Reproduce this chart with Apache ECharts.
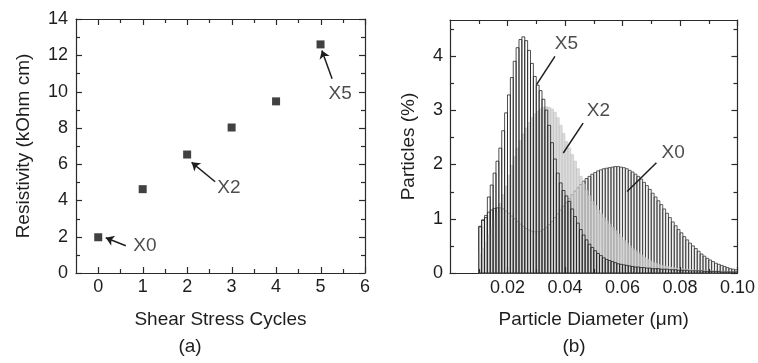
<!DOCTYPE html>
<html>
<head>
    <title>Resistivity and particle size</title>
    <meta charset="utf-8">
    <script type="text/javascript" src="https://cdn.jsdelivr.net/npm/echarts@6/dist/echarts.min.js"></script>
    <style>html, body { margin: 0; background: #fff; }</style>
</head>
<body>
<div id="chartmain" style="width:758px; height:363px;"></div>

<script type="text/javascript">
    // (a) resistivity vs shear stress cycles
    var cycles = [0, 1, 2, 3, 4, 5];
    var resistivity = [1.97, 4.62, 6.53, 8.02, 9.46, 12.6];
    var cycleTicks = [0, 1, 2, 3, 4, 5, 6];
    var cycleMinor = [0.5, 1.5, 2.5, 3.5, 4.5, 5.5];
    var resTicks = [0, 2, 4, 6, 8, 10, 12, 14];
    var resMinor = [1, 3, 5, 7, 9, 11, 13];

    // (b) particle size histograms, left edge of each bin (um)
    var diameter = [0.010, 0.011, 0.012, 0.013, 0.014, 0.015, 0.016, 0.017, 0.018, 0.019,
        0.020, 0.021, 0.022, 0.023, 0.024, 0.025, 0.026, 0.027, 0.028, 0.029,
        0.030, 0.031, 0.032, 0.033, 0.034, 0.035, 0.036, 0.037, 0.038, 0.039,
        0.040, 0.041, 0.042, 0.043, 0.044, 0.045, 0.046, 0.047, 0.048, 0.049,
        0.050, 0.051, 0.052, 0.053, 0.054, 0.055, 0.056, 0.057, 0.058, 0.059,
        0.060, 0.061, 0.062, 0.063, 0.064, 0.065, 0.066, 0.067, 0.068, 0.069,
        0.070, 0.071, 0.072, 0.073, 0.074, 0.075, 0.076, 0.077, 0.078, 0.079,
        0.080, 0.081, 0.082, 0.083, 0.084, 0.085, 0.086, 0.087, 0.088, 0.089,
        0.090, 0.091, 0.092, 0.093, 0.094, 0.095, 0.096, 0.097, 0.098, 0.099];
    var x0 = [0.85, 0.98, 1.06, 1.12, 1.16, 1.19, 1.20, 1.20, 1.18, 1.14,
        1.10, 1.05, 1.00, 0.95, 0.90, 0.86, 0.82, 0.79, 0.77, 0.76,
        0.76, 0.77, 0.80, 0.84, 0.89, 0.95, 1.02, 1.09, 1.16, 1.23,
        1.30, 1.37, 1.44, 1.51, 1.57, 1.63, 1.69, 1.74, 1.78, 1.82,
        1.85, 1.88, 1.90, 1.92, 1.93, 1.94, 1.95, 1.96, 1.96, 1.95,
        1.94, 1.92, 1.89, 1.86, 1.82, 1.78, 1.73, 1.67, 1.61, 1.54,
        1.47, 1.40, 1.33, 1.26, 1.18, 1.10, 1.02, 0.94, 0.87, 0.80,
        0.74, 0.67, 0.61, 0.55, 0.50, 0.45, 0.40, 0.35, 0.31, 0.27,
        0.24, 0.21, 0.18, 0.16, 0.14, 0.12, 0.10, 0.08, 0.07, 0.06];
    var x2 = [0.35, 0.45, 0.57, 0.70, 0.84, 0.98, 1.12, 1.28, 1.44, 1.60,
        1.80, 1.98, 2.14, 2.30, 2.44, 2.56, 2.67, 2.77, 2.86, 2.93,
        2.98, 3.02, 3.05, 3.06, 3.05, 3.02, 2.96, 2.86, 2.72, 2.57,
        2.42, 2.30, 2.18, 2.06, 1.92, 1.78, 1.64, 1.52, 1.42, 1.32,
        1.24, 1.16, 1.09, 1.02, 0.96, 0.90, 0.84, 0.78, 0.72, 0.66,
        0.60, 0.55, 0.50, 0.45, 0.41, 0.37, 0.33, 0.29, 0.26, 0.23,
        0.20, 0.18, 0.16, 0.14, 0.13, 0.12, 0.11, 0.10, 0.09, 0.08,
        0.08, 0.07, 0.07, 0.06, 0.06, 0.05, 0.05, 0.05, 0.04, 0.04,
        0.04, 0.04, 0.03, 0.03, 0.03, 0.03, 0.03, 0.02, 0.02, 0.02];
    var x5 = [0.86, 0.97, 1.02, 1.40, 1.62, 1.84, 2.06, 2.30, 2.62, 2.95,
        3.28, 3.60, 3.90, 4.15, 4.30, 4.35, 4.28, 4.10, 3.86, 3.62,
        3.46, 3.36, 3.20, 3.00, 2.72, 2.40, 2.10, 1.84, 1.66, 1.52,
        1.42, 1.32, 1.18, 1.04, 0.92, 0.80, 0.70, 0.61, 0.53, 0.47,
        0.41, 0.36, 0.32, 0.28, 0.25, 0.23, 0.21, 0.19, 0.17, 0.16,
        0.15, 0.14, 0.13, 0.12, 0.11, 0.11, 0.10, 0.10, 0.09, 0.09,
        0.08, 0.08, 0.08, 0.07, 0.07, 0.07, 0.06, 0.06, 0.06, 0.05,
        0.05, 0.05, 0.05, 0.04, 0.04, 0.04, 0.04, 0.04, 0.03, 0.03,
        0.03, 0.03, 0.03, 0.03, 0.02, 0.02, 0.02, 0.02, 0.02, 0.02];
    var diamTicks = [0.02, 0.04, 0.06, 0.08, 0.10];
    var diamMinor = [0.01, 0.03, 0.05, 0.07, 0.09];
    var pctTicks = [0, 1, 2, 3, 4];
    var pctMinor = [0.5, 1.5, 2.5, 3.5, 4.5];

    var binWidth = 0.001;
    var fontName = 'Liberation Sans, Arial, sans-serif';
    var ink = '#1e1e1e';
    var frame = '#2a2a2a';

    // one side of a plot box: line, optional labels and name
    function makeAxis(grid, pos, min, max, interval, opts) {
        opts = opts || {};
        var ax = {
            type: 'value', gridIndex: grid, position: pos,
            min: min, max: max, interval: interval,
            axisLine: {show: true, onZero: false, lineStyle: {color: frame, width: 1.2}},
            splitLine: {show: false},
            axisTick: {show: false},
            axisLabel: {show: false}
        };
        if (opts.fmt) {
            ax.axisLabel = {show: true, formatter: opts.fmt, margin: opts.margin,
                showMinLabel: opts.showMin !== false, showMaxLabel: true,
                fontFamily: fontName, fontSize: 18, color: ink};
            ax.name = opts.name;
            ax.nameLocation = 'middle';
            ax.nameGap = opts.gap;
            ax.nameTextStyle = {fontFamily: fontName, fontSize: 19, color: ink};
        }
        return ax;
    }

    function histogram(fill, stroke, lw) {
        return function (params, api) {
            var lo = api.coord([api.value(0), 0]);
            var hi = api.coord([api.value(0) + binWidth, api.value(1)]);
            return {
                type: 'rect',
                shape: {x: lo[0], y: hi[1], width: hi[0] - lo[0], height: lo[1] - hi[1]},
                style: {fill: fill, stroke: stroke, lineWidth: lw}
            };
        };
    }

    function pairs(xs, ys) {
        return xs.map(function (x, i) { return [x, ys[i]]; });
    }

    var intOnly = function (v) { return Math.abs(v - Math.round(v)) < 1e-9 ? String(Math.round(v)) : ''; };
    var diamFmt = function (v) { return v.toFixed(2); };

    var titles = [
        {type: 'text', x: 190, y: 347, style: {text: '(a)', textAlign: 'center', textVerticalAlign: 'middle',
            fontFamily: fontName, fontSize: 19, fill: ink}},
        {type: 'text', x: 574, y: 347, style: {text: '(b)', textAlign: 'center', textVerticalAlign: 'middle',
            fontFamily: fontName, fontSize: 19, fill: ink}}
    ];

    var option = {
        animation: false,
        backgroundColor: '#fff',
        grid: [
            {left: 76, top: 19, width: 289, height: 254},
            {left: 450, top: 20, width: 288, height: 253}
        ],
        xAxis: [
            makeAxis(0, 'bottom', -0.5, 6, 0.5, {fmt: intOnly, margin: 5, name: 'Shear Stress Cycles', gap: 37}),
            makeAxis(0, 'top', -0.5, 6, 0.5),
            makeAxis(1, 'bottom', 0, 0.1, 0.02, {fmt: diamFmt, margin: 6, showMin: false,
                name: 'Particle Diameter (μm)', gap: 37}),
            makeAxis(1, 'top', 0, 0.1, 0.02)
        ],
        yAxis: [
            makeAxis(0, 'left', 0, 14, 2, {fmt: intOnly, margin: 8, name: 'Resistivity (kOhm cm)', gap: 43}),
            makeAxis(0, 'right', 0, 14, 2),
            makeAxis(1, 'left', 0, 4.66, 0.5, {fmt: intOnly, margin: 7, name: 'Particles (%)', gap: 32}),
            makeAxis(1, 'right', 0, 4.66, 0.5)
        ],
        series: [
            {
                name: 'X0', type: 'custom', xAxisIndex: 2, yAxisIndex: 2,
                renderItem: histogram('rgba(120,120,120,0.12)', '#383838', 0.8),
                encode: {x: 0, y: 1},
                data: pairs(diameter, x0)
            },
            {
                name: 'X2', type: 'custom', xAxisIndex: 2, yAxisIndex: 2,
                renderItem: histogram('rgba(196,196,196,0.6)', '#c4c4c4', 0.6),
                encode: {x: 0, y: 1},
                data: pairs(diameter, x2)
            },
            {
                name: 'X5', type: 'custom', xAxisIndex: 2, yAxisIndex: 2,
                renderItem: histogram('rgba(255,255,255,0)', '#222', 0.8),
                encode: {x: 0, y: 1},
                data: pairs(diameter, x5)
            },
            {
                name: 'Resistivity',
                type: 'scatter',
                xAxisIndex: 0, yAxisIndex: 0,
                symbol: 'rect', symbolSize: 8,
                itemStyle: {color: '#111'},
                data: pairs(cycles, resistivity),
                markLine: {
                    silent: true, symbol: ['none', 'arrow'], symbolSize: 8,
                    lineStyle: {color: ink, width: 1.5, type: 'solid'},
                    label: {show: false},
                    data: [
                        [{coord: [0.62, 1.5]}, {coord: [0.17, 1.94]}],
                        [{coord: [2.63, 5.03]}, {coord: [2.1, 6.1]}],
                        [{coord: [5.26, 10.71]}, {coord: [5.03, 12.27]}]
                    ]
                }
            },
            {
                name: 'labels a',
                type: 'scatter',
                xAxisIndex: 0, yAxisIndex: 0,
                symbolSize: 0, silent: true,
                label: {show: true, position: 'inside', formatter: function (p) { return p.value[2]; },
                    fontFamily: fontName, fontSize: 19, color: ink},
                data: [[1.05, 1.5, 'X0'], [2.94, 4.71, 'X2'], [5.44, 9.89, 'X5']]
            },
            {
                name: 'labels b',
                type: 'scatter',
                xAxisIndex: 2, yAxisIndex: 2,
                symbolSize: 0, silent: true,
                label: {show: true, position: 'inside', formatter: function (p) { return p.value[2]; },
                    fontFamily: fontName, fontSize: 19, color: ink},
                data: [[0.0405, 4.22, 'X5'], [0.0516, 2.98, 'X2'], [0.0776, 2.22, 'X0']],
                markLine: {
                    silent: true, symbol: ['none', 'none'],
                    lineStyle: {color: ink, width: 1.5, type: 'solid'},
                    label: {show: false},
                    data: [
                        [{coord: [0.0365, 3.99]}, {coord: [0.0301, 3.47]}],
                        [{coord: [0.0463, 2.76]}, {coord: [0.0394, 2.21]}],
                        [{coord: [0.0718, 2.03]}, {coord: [0.0616, 1.5]}]
                    ]
                }
            }
        ],
        graphic: titles
    };

    var myChart = echarts.init(document.getElementById('chartmain'));
    myChart.setOption(option);

    // inside tick marks on all four sides, placed through the axes' own scales
    var tickMarks = [];
    function addTicks(axisIdx, dir, values, lo, hi, len) {
        var finder = {xAxisIndex: axisIdx, yAxisIndex: axisIdx};
        values.forEach(function (v) {
            var a = myChart.convertToPixel(finder, dir === 'x' ? [v, lo] : [lo, v]);
            var b = myChart.convertToPixel(finder, dir === 'x' ? [v, hi] : [hi, v]);
            var segs;
            if (dir === 'x') {
                var x = Math.round(a[0]) + 0.5;
                segs = [[x, a[1], x, a[1] - len], [x, b[1], x, b[1] + len]];
            } else {
                var y = Math.round(a[1]) + 0.5;
                segs = [[a[0], y, a[0] + len, y], [b[0], y, b[0] - len, y]];
            }
            segs.forEach(function (s) {
                tickMarks.push({type: 'line', z: 100, silent: true,
                    shape: {x1: s[0], y1: s[1], x2: s[2], y2: s[3]},
                    style: {stroke: frame, lineWidth: 1.2}});
            });
        });
    }
    addTicks(0, 'x', cycleTicks, 0, 14, 6);
    addTicks(0, 'x', cycleMinor, 0, 14, 4);
    addTicks(0, 'y', resTicks, -0.5, 6, 6);
    addTicks(0, 'y', resMinor, -0.5, 6, 4);
    addTicks(2, 'x', diamTicks, 0, 4.66, 6);
    addTicks(2, 'x', diamMinor, 0, 4.66, 4);
    addTicks(2, 'y', pctTicks, 0, 0.1, 6);
    addTicks(2, 'y', pctMinor, 0, 0.1, 4);

    myChart.setOption({graphic: titles.concat(tickMarks)});
</script>
</body>
</html>
